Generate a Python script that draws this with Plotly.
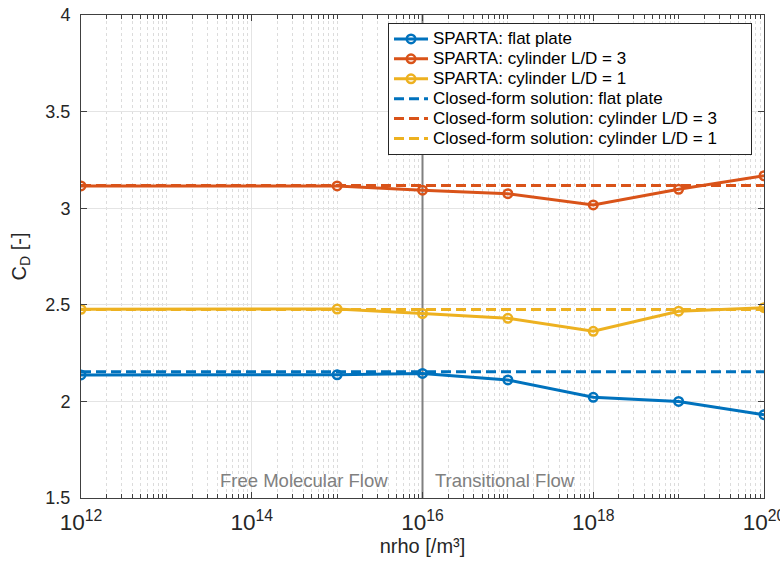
import plotly.graph_objects as go

# ---- data ----
nrho = [1e12, 1e15, 1e16, 1e17, 1e18, 1e19, 1e20]
cd_flat_plate = [2.137, 2.138, 2.145, 2.111, 2.021, 2.000, 1.931]
cd_cylinder_ld3 = [3.115, 3.115, 3.093, 3.075, 3.017, 3.098, 3.168]
cd_cylinder_ld1 = [2.477, 2.478, 2.455, 2.430, 2.363, 2.467, 2.485]

closed_form_x = [1e12, 1e20]
closed_flat_plate = 2.154
closed_cylinder_ld3 = 3.118
closed_cylinder_ld1 = 2.476

transition_nrho = 1e16
y_range = [1.5, 4.0]
x_log_range = [11.99999, 20.00001]

names_sparta = ["SPARTA: flat plate", "SPARTA: cylinder L/D = 3", "SPARTA: cylinder L/D = 1"]
names_closed = ["Closed-form solution: flat plate",
                "Closed-form solution: cylinder L/D = 3",
                "Closed-form solution: cylinder L/D = 1"]

colors = ["#0072BD", "#D95319", "#EDB120"]
FONT = "Liberation Sans, Arial, Helvetica, sans-serif"
TXT = "#262626"

def lg(s):
    # larger visible text than legend row pitch; trailing padding widens the box
    return '<span style="font-size:17px">' + s + '&nbsp;' * 6 + '</span>'

fig = go.Figure()

# boundary line
fig.add_trace(go.Scatter(x=[transition_nrho, transition_nrho], y=y_range, mode="lines",
                         line=dict(color="#808080", width=2), showlegend=False, hoverinfo="skip"))

for name, vals, c in zip(names_sparta, [cd_flat_plate, cd_cylinder_ld3, cd_cylinder_ld1], colors):
    fig.add_trace(go.Scatter(x=nrho, y=vals, mode="lines+markers", name=lg(name),
                             line=dict(color=c, width=3),
                             marker=dict(symbol="circle-open", size=8.5, color=c, line=dict(width=2.5, color=c))))

for name, val, c in zip(names_closed, [closed_flat_plate, closed_cylinder_ld3, closed_cylinder_ld1], colors):
    fig.add_trace(go.Scatter(x=closed_form_x, y=[val, val], mode="lines", name=lg(name),
                             line=dict(color=c, width=3, dash="10px,5px")))

fig.add_annotation(x=16, y=1.593, xref="x", yref="y", text="Free Molecular Flow",
                   showarrow=False, xanchor="right", yanchor="middle", xshift=-33,
                   font=dict(family=FONT, size=18.5, color="#808080"))
fig.add_annotation(x=16, y=1.593, xref="x", yref="y", text="Transitional Flow",
                   showarrow=False, xanchor="left", yanchor="middle", xshift=10,
                   font=dict(family=FONT, size=18.5, color="#808080"))

fig.update_layout(
    width=780, height=561,
    margin=dict(l=81, r=16, t=15, b=63),
    paper_bgcolor="white", plot_bgcolor="white",
    font=dict(family=FONT, color=TXT, size=17),
    legend=dict(x=0.4495, y=0.9834, xanchor="left", yanchor="top",
                bgcolor="white", bordercolor=TXT, borderwidth=1,
                font=dict(family=FONT, size=13, color="black"),
                itemwidth=34, tracegroupgap=0),
)

fig.update_xaxes(
    type="log", range=x_log_range, dtick=2, exponentformat="power",
    showline=True, linecolor="#404040", linewidth=1, mirror="ticks",
    ticks="inside", ticklen=6, tickcolor="#404040",
    showgrid=True, gridcolor="#e4e4e4", gridwidth=1,
    minor=dict(dtick="D1", ticks="inside", ticklen=4, tickcolor="#404040",
               showgrid=True, gridcolor="#dcdcdc", griddash="dot", gridwidth=1),
    tickfont=dict(size=18, color=TXT), ticklabelstandoff=5, ticklabeloverflow="allow",
    title=dict(text="nrho [/m³]", font=dict(size=20, color=TXT), standoff=2),
    zeroline=False, automargin=False,
)
fig.update_yaxes(
    range=y_range, dtick=0.5,
    showline=True, linecolor="#404040", linewidth=1, mirror="ticks",
    ticks="inside", ticklen=6, tickcolor="#404040",
    showgrid=True, gridcolor="#e4e4e4", gridwidth=1,
    tickfont=dict(size=18, color=TXT), ticklabelstandoff=6,
    title=dict(text="C<sub>D</sub> [-]", font=dict(size=20, color=TXT), standoff=13),
    zeroline=False, automargin=False,
)

fig.write_html("out.html")
